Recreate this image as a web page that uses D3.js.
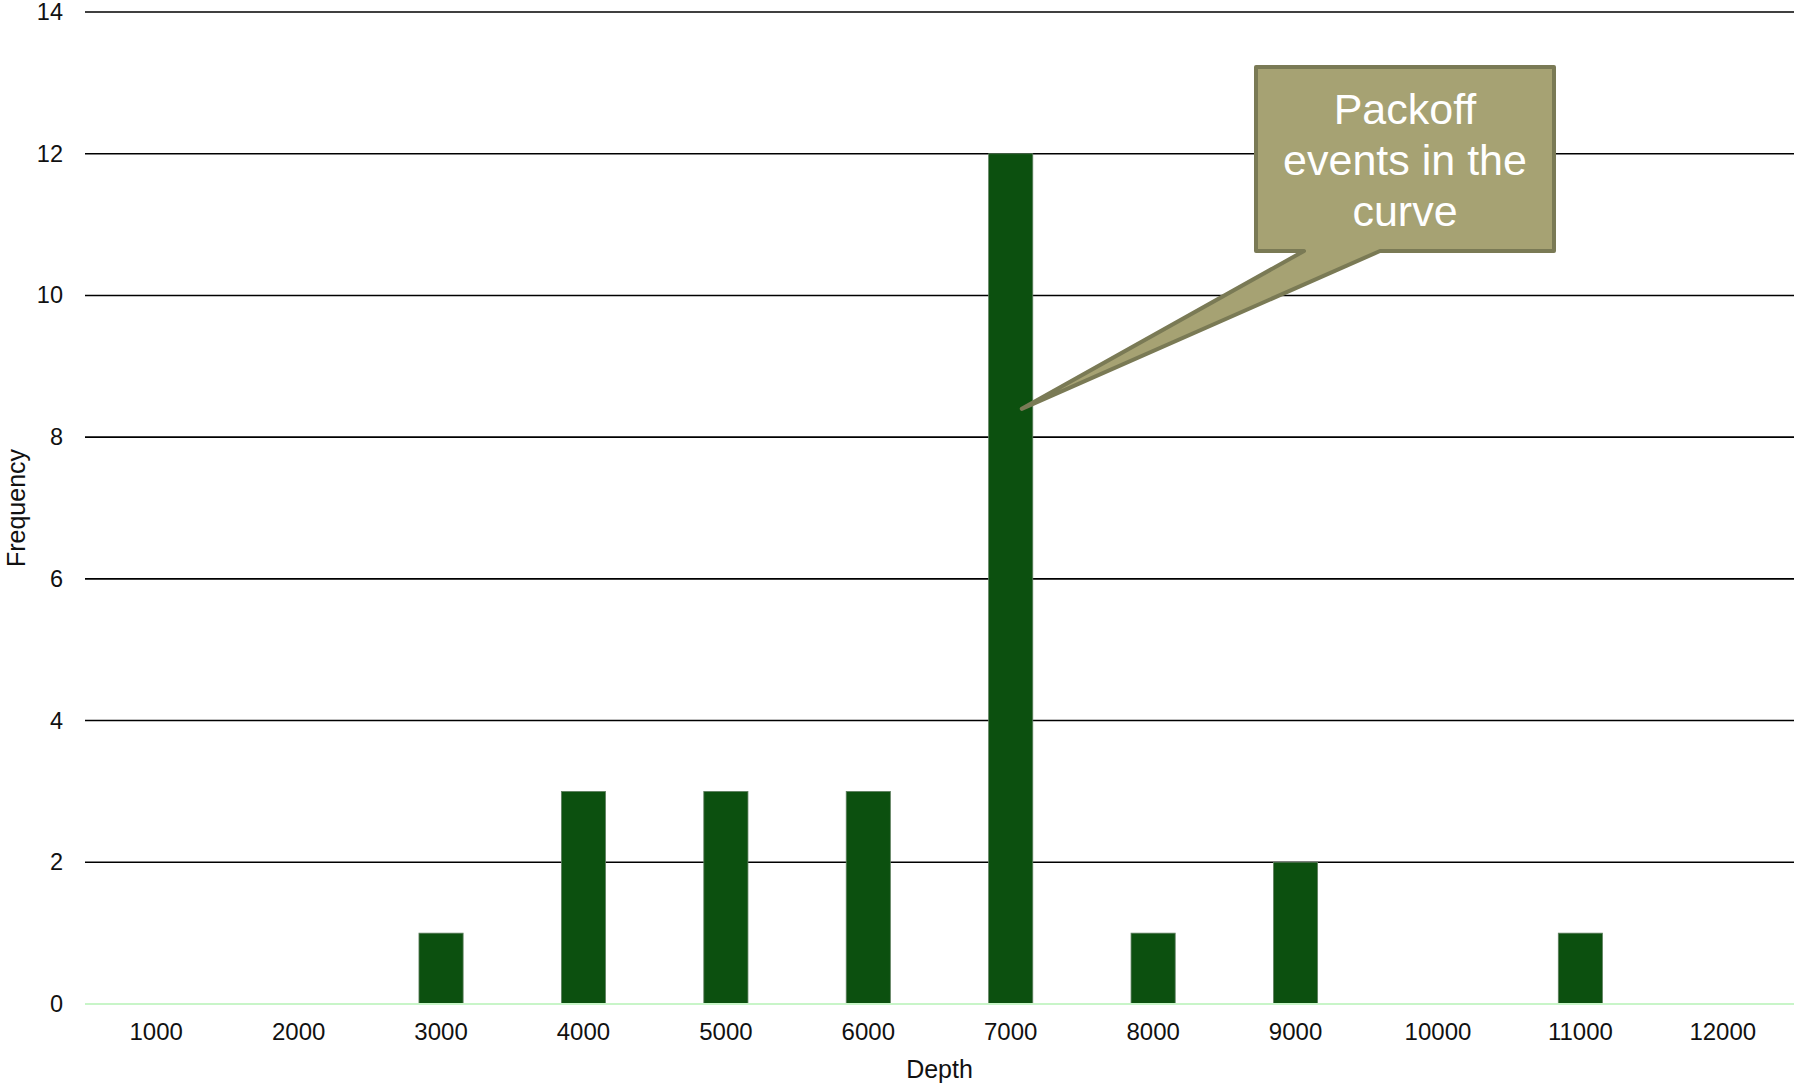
<!DOCTYPE html>
<html>
<head>
<meta charset="utf-8">
<script src="https://cdn.jsdelivr.net/npm/d3@7"></script>
<style>
  html, body { margin: 0; padding: 0; background: #fff; }
  svg { display: block; font-family: "Liberation Sans", Arial, sans-serif; }
</style>
</head>
<body>
<svg id="chart" width="1794" height="1086"></svg>
<script>
const categories = ["1000","2000","3000","4000","5000","6000","7000","8000","9000","10000","11000","12000"];
const frequency = [0, 0, 1, 3, 3, 3, 12, 1, 2, 0, 1, 0];
const yTicks = [0, 2, 4, 6, 8, 10, 12, 14];
const calloutLines = ["Packoff", "events in the", "curve"];
const calloutTarget = { category: "7000", value: 8.4 };

const W = 1794, H = 1086;
const m = { left: 85, right: 0, top: 12, bottom: 82 };
const svg = d3.select("#chart");

const x = d3.scaleBand().domain(categories).range([m.left, W - m.right]).paddingInner(0.69).paddingOuter(0.345);
const y = d3.scaleLinear().domain([0, 14]).range([H - m.bottom, m.top]);

// gridlines
svg.append("g").selectAll("line").data(yTicks.filter(d => d > 0)).join("line")
  .attr("x1", m.left).attr("x2", W - m.right)
  .attr("y1", d => y(d)).attr("y2", d => y(d))
  .attr("stroke", "#000").attr("stroke-width", 1.6);

// bars
svg.append("g").selectAll("rect").data(categories.map((c, i) => ({ c, v: frequency[i] })).filter(d => d.v > 0)).join("rect")
  .attr("x", d => x(d.c)).attr("width", x.bandwidth())
  .attr("y", d => y(d.v)).attr("height", d => y(0) - y(d.v))
  .attr("fill", "#0c500f").attr("stroke", "#5f7f5f").attr("stroke-width", 0.8);

// baseline
svg.append("line").attr("x1", m.left).attr("x2", W - m.right)
  .attr("y1", y(0)).attr("y2", y(0)).attr("stroke", "#c8f5c8").attr("stroke-width", 2);

// y axis labels
const yAxis = d3.axisLeft(y).tickValues(yTicks).tickSize(0).tickPadding(22);
const gy = svg.append("g").attr("transform", `translate(${m.left},0)`).call(yAxis);
gy.select(".domain").remove();
gy.selectAll("text").attr("font-size", 23.5).attr("fill", "#111").attr("font-family", "Liberation Sans, Arial, sans-serif");

// x axis labels
const xAxis = d3.axisBottom(x).tickSize(0).tickPadding(19);
const gx = svg.append("g").attr("transform", `translate(0,${y(0)})`).call(xAxis);
gx.select(".domain").remove();
gx.selectAll("text").attr("font-size", 24).attr("fill", "#111").attr("font-family", "Liberation Sans, Arial, sans-serif");

// axis titles
svg.append("text").attr("x", (m.left + W - m.right) / 2).attr("y", 1078)
  .attr("text-anchor", "middle").attr("font-size", 25).attr("fill", "#111").text("Depth");
svg.append("text").attr("transform", `translate(25,${(m.top + H - m.bottom) / 2}) rotate(-90)`)
  .attr("text-anchor", "middle").attr("font-size", 25).attr("fill", "#111").text("Frequency");

// callout
const bx0 = 1256, by0 = 67, bx1 = 1554, by1 = 251;
const tipX = x(calloutTarget.category) + x.bandwidth() * 0.75;
const tipY = y(calloutTarget.value);
const path = d3.path();
path.moveTo(bx0, by0);
path.lineTo(bx1, by0);
path.lineTo(bx1, by1);
path.lineTo(1380, by1);
path.lineTo(tipX, tipY);
path.lineTo(1304, by1);
path.lineTo(bx0, by1);
path.closePath();
svg.append("path").attr("d", path.toString())
  .attr("fill", "#a6a273").attr("stroke", "#7a7a55").attr("stroke-width", 4).attr("stroke-linejoin", "round");

const cx = (bx0 + bx1) / 2;
svg.append("g").selectAll("text").data(calloutLines).join("text")
  .attr("x", cx).attr("y", (d, i) => 124 + i * 51)
  .attr("text-anchor", "middle").attr("font-size", 43).attr("fill", "#fff").text(d => d);
</script>
</body>
</html>
